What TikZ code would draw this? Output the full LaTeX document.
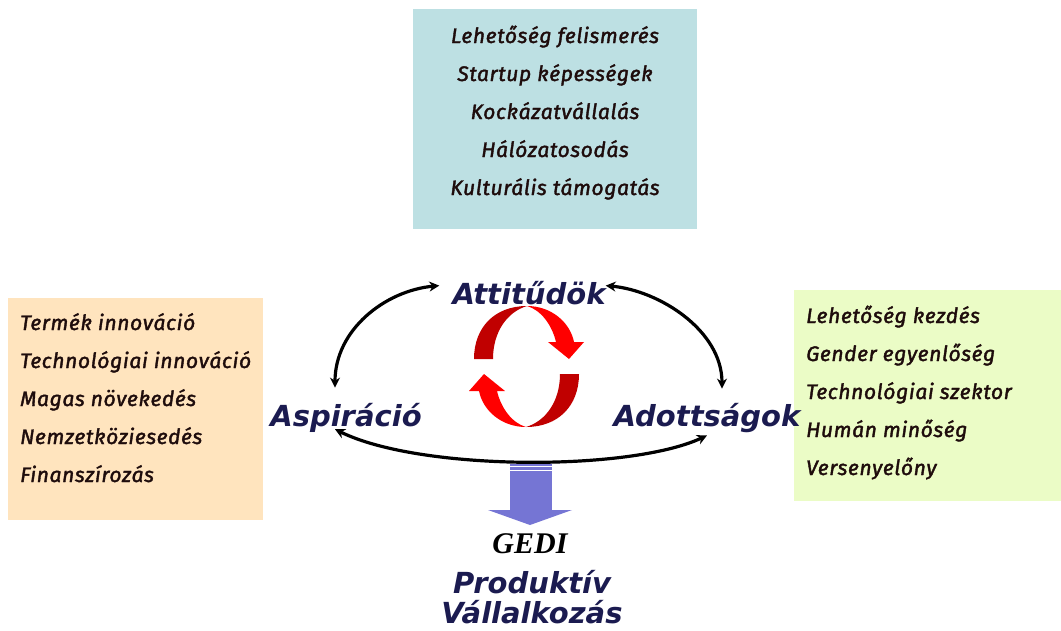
\documentclass[tikz,border=0pt]{standalone}
\usepackage{fontspec}
\usetikzlibrary{arrows.meta}

\newfontfamily\boxfont[ItalicFeatures={FakeBold=1.8}, LetterSpace=3]{Fira Sans}
\newfontfamily\bigfont{DejaVu Sans}
\newfontfamily\gedifont{Liberation Serif}

\definecolor{tealbox}{RGB}{189,224,227}
\definecolor{peachbox}{RGB}{255,228,190}
\definecolor{limebox}{RGB}{235,252,198}
\definecolor{navy}{RGB}{27,27,80}
\definecolor{itemtext}{RGB}{30,12,12}
\definecolor{darkred}{RGB}{192,0,0}
\definecolor{gediblue}{RGB}{117,117,212}

% one half of the red cycle, the other half is the same turned round
\newcommand\redhalf{%
    \fill[darkred] (474,359) .. controls (474,327) and (495,306) .. (527,306)
        .. controls (507,312) and (493,332) .. (493,359) -- cycle;
    \fill[red] (527,306) .. controls (551,306) and (570,322) .. (574,342)
        -- (584,342) -- (569,359) -- (548,342) -- (556,342)
        .. controls (552,325) and (541,310) .. (527,306) -- cycle;
}

\begin{document}
\begin{tikzpicture}[
            x=1pt, y=-1pt,
            item/.style={font=\boxfont\itshape\fontsize{21}{24}\selectfont, text=itemtext, inner sep=0pt},
            big/.style={font=\bigfont\bfseries\itshape\fontsize{29}{32}\selectfont, text=navy, inner sep=2pt},
            link/.style={{Stealth[length=10pt,width=10pt]}-{Stealth[length=10pt,width=10pt]}, line width=3.2pt},
        ]
            \useasboundingbox (0,0) rectangle (1061,630);
            % boxes
            \fill[tealbox] (413,9) rectangle (697,229);
            \fill[peachbox] (8,298) rectangle (263,520);
            \fill[limebox] (794,290) rectangle (1061,501);
            \node[item, anchor=base] (att1) at (555,43) {Lehetőség felismerés};
            \node[item, anchor=base] (att2) at (555,81) {Startup képességek};
            \node[item, anchor=base] (att3) at (555,119) {Kockázatvállalás};
            \node[item, anchor=base] (att4) at (555,157) {Hálózatosodás};
            \node[item, anchor=base] (att5) at (555,195) {Kulturális támogatás};
            \node[item, anchor=base west] (asp1) at (20,330) {Termék innováció};
            \node[item, anchor=base west] (asp2) at (20,368) {Technológiai innováció};
            \node[item, anchor=base west] (asp3) at (20,406) {Magas növekedés};
            \node[item, anchor=base west] (asp4) at (20,444) {Nemzetköziesedés};
            \node[item, anchor=base west] (asp5) at (20,482) {Finanszírozás};
            \node[item, anchor=base west] (adt1) at (806,323) {Lehetőség kezdés};
            \node[item, anchor=base west] (adt2) at (806,361) {Gender egyenlőség};
            \node[item, anchor=base west] (adt3) at (806,399) {Technológiai szektor};
            \node[item, anchor=base west] (adt4) at (806,437) {Humán minőség};
            \node[item, anchor=base west] (adt5) at (806,475) {Versenyelőny};
            % the three pillars
            \node[big, anchor=base] (att) at (529,304) {Attitűdök};
            \node[big, anchor=base] (asp) at (346,426) {Aspiráció};
            \node[big, anchor=base] (adt) at (707,426) {Adottságok};
            \draw[link] ([shift={(-11,-7)}]att.west) .. controls +(-54,5) and +(0,-58) .. ([shift={(-11,-13)}]asp.north);
            \draw[link] ([shift={(-2,-7)}]att.east) .. controls +(54,5) and +(0,-58) .. ([shift={(15,-12)}]adt.north);
            \draw[link] ([shift={(-11,-5)}]asp.south) .. controls +(85,42) and +(-77,36) .. ([shift={(0,1)}]adt.south);
            % red cycle
            \redhalf
            \begin{scope}[rotate around={180:(526.5,366.5)}]
                \redhalf
            \end{scope}
            % down arrow to the result
            \fill[gediblue] (510,464) rectangle (552,510);
            \fill[gediblue] (488,510) -- (572,510) -- (530,525) -- cycle;
            \draw[white, line width=1.2pt] (510,466.5) -- (552,466.5);
            \draw[white, line width=1.2pt] (510,470.5) -- (552,470.5);
            \node[font=\gedifont\bfseries\itshape\fontsize{30}{32}\selectfont, anchor=base] (gedi) at (530,553) {GEDI};
            \node[big, anchor=base] (prod1) at (532,593) {Produktív};
            \node[big, anchor=base] (prod2) at (532,623) {Vállalkozás};
        \end{tikzpicture}
\end{document}
